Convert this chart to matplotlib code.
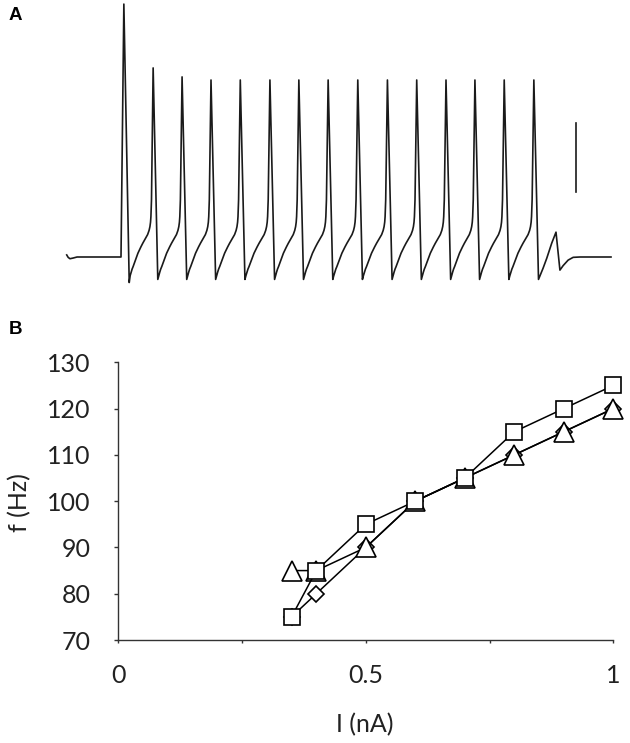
import matplotlib
matplotlib.use("Agg")
import matplotlib.pyplot as plt

# ---- panel A: voltage trace (ms, mV) ----
pre_t = [-15.2, -14.8, -14.3, -13.4, -12.3, 0.0]
pre_v = [-64.4, -65.1, -65.5, -65.3, -65.0, -65.0]

peak_t = [0.8, 9.0, 17.1, 25.2, 33.4, 41.7, 49.8, 58.0, 66.3, 74.6, 82.8, 91.0, 99.1, 107.3, 115.6]
peak_v = [8.3, -10.2, -12.8, -13.7, -13.7, -13.7, -13.7, -13.7, -13.7, -13.7, -13.7, -13.7, -13.7, -13.7, -13.7]
trough_t = [2.3, 10.3, 18.4, 26.5, 34.7, 43.0, 51.1, 59.3, 67.6, 75.9, 84.1, 92.3, 100.4, 108.6, 116.9]
trough_v = [-72.4, -71.5, -71.5, -71.5, -71.5, -71.5, -71.5, -71.5, -71.5, -71.5, -71.5, -71.5, -71.5, -71.5, -71.5]

# shape of the interspike ramp (fraction of trough -> next peak, mV)
ramp_f = [0.040, 0.081, 0.121, 0.162, 0.243, 0.364, 0.486, 0.567, 0.688, 0.769, 0.830, 0.866, 0.891, 0.907, 0.931]
ramp_v = [-70.4, -69.4, -68.5, -67.8, -66.2, -63.9, -62.1, -61.0, -59.5, -58.5, -57.3, -56.2, -54.9, -53.3, -48.4]

post_t = [118.2, 119.2, 120.6, 121.8, 122.9, 123.8, 125.2, 126.6, 128.5, 137.2]
post_v = [-68.2, -65.4, -61.0, -57.8, -68.8, -67.5, -65.9, -65.1, -65.0, -65.0]

scalebar_t = 127.4
scalebar_v = [-46.2, -26.2]   # 20 mV

# ---- panel B: f-I curves ----
current = [0.35, 0.4, 0.5, 0.6, 0.7, 0.8, 0.9, 1.0]
f_square = [75, 85, 95, 100, 105, 115, 120, 125]
f_triangle = [85, 85, 90, 100, 105, 110, 115, 120]
f_diamond = [75, 80, 90, 100, 105, 110, 115, 120]

t = list(pre_t)
v = list(pre_v)
for i in range(len(peak_t)):
    t += [peak_t[i], trough_t[i]]
    v += [peak_v[i], trough_v[i]]
    if i < len(peak_t) - 1:
        span = peak_t[i + 1] - trough_t[i]
        t += [trough_t[i] + f * span for f in ramp_f]
        v += ramp_v
t += post_t
v += post_v

fig = plt.figure(figsize=(6.3, 7.43), dpi=100)

axA = fig.add_axes([0, 1 - 300 / 743, 1, 300 / 743])
axA.plot(t, v, color="#1a1a1a", lw=1.2, solid_joinstyle="round")
axA.plot([scalebar_t, scalebar_t], scalebar_v, color="#1a1a1a", lw=1.2)
axA.set_xlim(-121 * 0.28, (630 - 121) * 0.28)
axA.set_ylim(-65 - 43 / 3.45, -65 + 257 / 3.45)
axA.axis("off")

axB = fig.add_axes([118.3 / 630, 1 - 640 / 743, 495 / 630, 277.7 / 743])
mk = dict(color="black", lw=1.1, mfc="white", mec="black", mew=1.2, clip_on=False)
axB.plot(current, f_diamond, marker="D", ms=8, **mk)
axB.plot(current, f_triangle, marker="^", ms=15, **mk)
axB.plot(current, f_square, marker="s", ms=12, **mk)
axB.set_xlim(0, 1)
axB.set_ylim(70, 130)
axB.set_xticks([0, 0.25, 0.5, 0.75, 1])
axB.set_xticklabels(["0", "", "0.5", "", "1"])
axB.set_yticks([70, 80, 90, 100, 110, 120, 130])
for s in ["top", "right"]:
    axB.spines[s].set_visible(False)
for s in ["left", "bottom"]:
    axB.spines[s].set_color("#333333")
    axB.spines[s].set_linewidth(1.0)
axB.tick_params(axis="x", length=2.5, width=1.0, color="#333333", pad=15,
                labelsize=18, labelfontfamily="Lato", labelcolor="#222222")
axB.tick_params(axis="y", length=3, width=1.0, color="#333333", pad=17,
                labelsize=18, labelfontfamily="Lato", labelcolor="#222222")

fig.text(20 / 630, 1 - 503 / 743, "f (Hz)", rotation=90, ha="center", va="center",
         fontsize=18, family="Lato", color="#222222")
fig.text(365 / 630, 1 - 725 / 743, "I (nA)", ha="center", va="center",
         fontsize=18, family="Lato", color="#222222")

fig.text(15 / 630, 1 - 15 / 743, "A", ha="center", va="center", fontsize=13.5,
         weight="bold", family="Liberation Sans")
fig.text(15 / 630, 1 - 329 / 743, "B", ha="center", va="center", fontsize=13.5,
         weight="bold", family="Liberation Sans")

fig.savefig("out.png", dpi=100)
